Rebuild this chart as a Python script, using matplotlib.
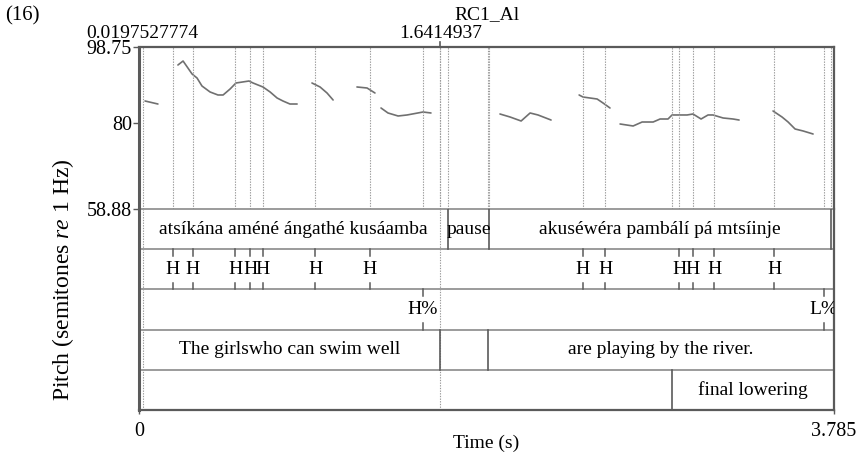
import numpy as np
import matplotlib.pyplot as plt

plt.rcParams['font.family'] = ['Liberation Serif', 'DejaVu Serif']
plt.rcParams['mathtext.fontset'] = 'custom'
plt.rcParams['mathtext.rm'] = 'Liberation Serif'
plt.rcParams['mathtext.it'] = 'Liberation Serif:italic'

# ---- data ----
t_start, t_end = 0.0, 3.785
cursor_times = [0.0197527774, 1.6414937]
cursor_labels = ['0.0197527774', '1.6414937']
pitch_ticks = [58.88, 80, 98.75]
pitch_ticklabels = ['58.88', '80', '98.75']

# voiced stretches of the pitch track (time s, semitones re 1 Hz)
seg_times = [
    [0.033, 0.103],
    [0.212, 0.240, 0.289, 0.316, 0.343, 0.387, 0.430, 0.458, 0.496, 0.528,
     0.599, 0.621, 0.675, 0.714, 0.752, 0.784, 0.822, 0.861],
    [0.942, 0.986, 1.024, 1.057],
    [1.187, 1.242, 1.285],
    [1.318, 1.356, 1.411, 1.460, 1.547, 1.590],
    [1.966, 2.021, 2.081, 2.130, 2.173, 2.244],
    [2.397, 2.418, 2.495, 2.527, 2.565],
    [2.620, 2.691, 2.740, 2.800, 2.838, 2.881, 2.903, 2.985, 3.017, 3.061,
     3.099, 3.126, 3.181, 3.235, 3.268],
    [3.453, 3.502, 3.535, 3.573, 3.617, 3.671],
]
seg_pitch = [
    [85.46, 84.72],
    [94.32, 95.30, 92.11, 91.12, 89.15, 87.68, 86.94, 86.94, 88.41, 89.89,
     90.38, 89.89, 88.91, 87.68, 86.20, 85.46, 84.72, 84.72],
    [89.89, 88.91, 87.43, 85.71],
    [88.91, 88.66, 87.43],
    [83.74, 82.51, 81.77, 82.02, 82.75, 82.51],
    [82.26, 81.52, 80.54, 82.51, 82.02, 80.78],
    [86.94, 86.44, 85.95, 84.97, 83.74],
    [79.80, 79.31, 80.29, 80.29, 81.03, 81.03, 82.02, 82.02, 82.26, 81.03,
     82.02, 82.02, 81.28, 81.03, 80.78],
    [83.00, 81.52, 80.29, 78.57, 78.08, 77.34],
]

word_bounds = [0.0, 1.683, 1.906, 3.769, 3.785]
word_labels = ['atsíkána améné ángathé kusáamba', 'pause',
               'akuséwéra pambálí pá mtsíinje', '']

tone_times = [0.185, 0.294, 0.523, 0.605, 0.675, 0.959, 1.258,
              2.418, 2.538, 2.941, 3.017, 3.132, 3.459]
tone_labels = ['H'] * len(tone_times)

btone_times = [1.547, 3.730]
btone_labels = ['H%', 'L%']

gloss_bounds = [0.0, 1.6414937, 1.901, 3.785]
gloss_labels = ['The girlswho can swim well', '', 'are playing by the river.']

fl_bounds = [0.0, 2.903, 3.785]
fl_labels = ['', 'final lowering']

# ---- figure ----
W, H = 860, 453
fig = plt.figure(figsize=(W / 100, H / 100), dpi=100)
L, R = 139 / W, 834 / W
ax_p = fig.add_axes([L, 1 - 209 / H, R - L, (209 - 47) / H])
ax_t = fig.add_axes([L, 1 - 410 / H, R - L, (410 - 209) / H])

frame = '#5a5a5a'
sep = '#8a8a8a'
dot = '#9a9a9a'
fs = 14

# pitch panel
for ts, ps in zip(seg_times, seg_pitch):
    ax_p.plot(ts, ps, color='#707070', lw=1.2, solid_capstyle='round')

all_marks = (word_bounds[1:-1] + tone_times + btone_times + gloss_bounds[1:-1]
             + fl_bounds[1:-1] + cursor_times)
for t in all_marks:
    ax_p.axvline(t, color=dot, lw=0.8, ls=(0, (1.2, 1.2)))

ax_p.set_xlim(t_start, t_end)
ax_p.set_ylim(pitch_ticks[0], pitch_ticks[-1])
ax_p.set_xticks([])
ax_p.set_yticks(pitch_ticks)
ax_p.set_yticklabels(pitch_ticklabels, fontsize=fs + 0.5)
ax_p.tick_params(axis='y', direction='out', length=4, width=1, color=frame, pad=1)
for s in ['top', 'right']:
    ax_p.spines[s].set_color(frame)
    ax_p.spines[s].set_linewidth(1.6)
ax_p.spines['left'].set_color(frame)
ax_p.spines['left'].set_linewidth(2.2)
ax_p.spines['bottom'].set_color(sep)
ax_p.spines['bottom'].set_linewidth(1.2)

# cursor labels on top
for t, lab in zip(cursor_times, cursor_labels):
    ax_p.text(t, 1.086, lab, transform=ax_p.get_xaxis_transform(),
              ha='center', va='center', fontsize=fs)
ax_p.plot([cursor_times[1]] * 2, [1.0, 1.03], transform=ax_p.get_xaxis_transform(),
          color=frame, lw=1.2, clip_on=False)
ax_p.text(0.5, 1.198, 'RC1_Al', transform=ax_p.transAxes,
          ha='center', va='center', fontsize=fs)

# tier panel: 5 tiers, top tier occupies y in [4, 5]
ax_t.set_xlim(t_start, t_end)
ax_t.set_ylim(0, 5)
for y in [1, 2, 3, 4, 5]:
    ax_t.axhline(y, color=sep, lw=1.2)
for t in cursor_times:
    ax_t.axvline(t, color=dot, lw=0.8, ls=(0, (1.2, 1.2)))


def interval_tier(row, bounds, labels):
    y0 = row
    for b in bounds[1:-1]:
        ax_t.plot([b, b], [y0, y0 + 1], color=frame, lw=1.2)
    for a, b, lab in zip(bounds[:-1], bounds[1:], labels):
        if lab:
            ax_t.text((a + b) / 2, y0 + 0.5, lab, ha='center', va='center',
                      fontsize=fs, clip_on=True)


def point_tier(row, times, labels):
    y0 = row
    for t, lab in zip(times, labels):
        ax_t.plot([t, t], [y0 + 1, y0 + 0.83], color=frame, lw=1.1)
        ax_t.plot([t, t], [y0, y0 + 0.17], color=frame, lw=1.1)
        ax_t.text(t, y0 + 0.5, lab, ha='center', va='center', fontsize=fs,
                  clip_on=True)


interval_tier(4, word_bounds, word_labels)
point_tier(3, tone_times, tone_labels)
point_tier(2, btone_times, btone_labels)
interval_tier(1, gloss_bounds, gloss_labels)
interval_tier(0, fl_bounds, fl_labels)

ax_t.set_yticks([])
ax_t.set_xticks([t_start, t_end])
ax_t.set_xticklabels(['0', '3.785'], fontsize=fs + 0.5)
ax_t.tick_params(axis='x', direction='out', length=3, width=1, color=frame, pad=6)
ax_t.spines['top'].set_visible(False)
ax_t.spines['left'].set_color(frame)
ax_t.spines['left'].set_linewidth(2.2)
for s in ['right', 'bottom']:
    ax_t.spines[s].set_color(frame)
    ax_t.spines[s].set_linewidth(1.6)

fig.text(0.5 * (L + R), 1 - 443 / H, 'Time (s)', ha='center', va='center', fontsize=fs)
fig.text(63 / W, 1 - 280 / H, r'Pitch (semitones $\mathit{re}$ 1 Hz)', rotation=90,
         ha='center', va='center', fontsize=17)
fig.text(22 / W, 1 - 16 / H, '(16)', ha='center', va='center', fontsize=15)

fig.savefig('out.png', dpi=100)
